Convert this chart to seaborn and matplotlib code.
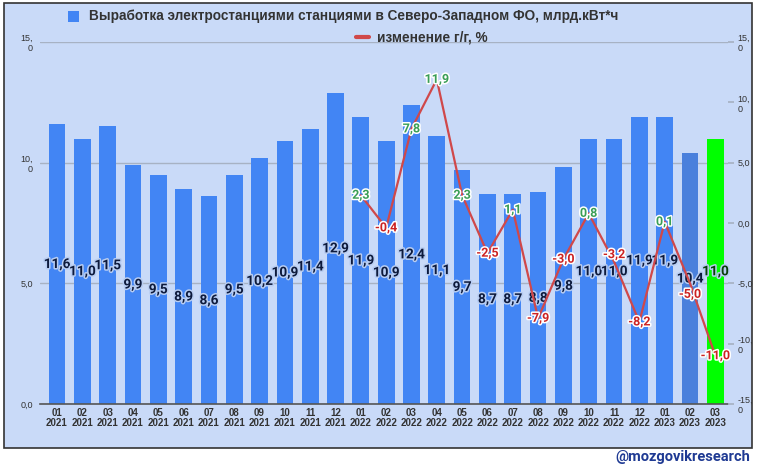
import matplotlib
matplotlib.use("Agg")
import matplotlib.pyplot as plt
import matplotlib.patheffects as pe
from matplotlib.patches import Rectangle
import numpy as np
import pandas as pd
import seaborn as sns

months = ["01\n2021", "02\n2021", "03\n2021", "04\n2021", "05\n2021", "06\n2021",
          "07\n2021", "08\n2021", "09\n2021", "10\n2021", "11\n2021", "12\n2021",
          "01\n2022", "02\n2022", "03\n2022", "04\n2022", "05\n2022", "06\n2022",
          "07\n2022", "08\n2022", "09\n2022", "10\n2022", "11\n2022", "12\n2022",
          "01\n2023", "02\n2023", "03\n2023"]
generation = [11.6, 11.0, 11.5, 9.9, 9.5, 8.9, 8.6, 9.5, 10.2, 10.9, 11.4, 12.9,
              11.9, 10.9, 12.4, 11.1, 9.7, 8.7, 8.7, 8.8, 9.8, 11.0, 11.0, 11.9,
              11.9, 10.4, 11.0]
yoy_months = months[12:]
yoy_change = [2.3, -0.4, 7.8, 11.9, 2.3, -2.5, 1.1, -7.9, -3.0, 0.8, -3.2, -8.2,
              0.1, -5.0, -11.0]
left_ticks = [0, 5, 10, 15]
left_tick_labels = ["0,0", "5,0", "10,\n0", "15,\n0"]
right_ticks = [-15, -10, -5, 0, 5, 10, 15]
right_tick_labels = ["-15,\n0", "-10,\n0", "-5,0", "0,0", "5,0", "10,\n0", "15,\n0"]

title1 = "Выработка электростанциями станциями в Северо-Западном ФО, млрд.кВт*ч"
title2 = "изменение г/г, %"

def fmt(v):
    return f"{v:.1f}".replace(".", ",")

sns.set_theme(style="white")
plt.rcParams['font.family'] = ['Roboto', 'DejaVu Sans']

W, H = 758, 468
fig = plt.figure(figsize=(W / 100, H / 100), dpi=100)
fig.patch.set_facecolor("white")

panel_color = "#c9daf8"
panel = Rectangle((4 / W, 1 - 448 / H), 748 / W, 445 / H,
                  transform=fig.transFigure, facecolor=panel_color,
                  edgecolor="#333333", linewidth=1.2, zorder=-10)
fig.patches.append(panel)

ax = fig.add_axes([40 / W, 1 - 404 / H, 688 / W, 362 / H])
ax.set_facecolor("none")

bar_colors = ["#4285f4"] * len(generation)
bar_colors[-2] = "#4a80dc"
bar_colors[-1] = "#00ff00"

df = pd.DataFrame({"month": months, "gen": generation})
sns.barplot(data=df, x="month", y="gen", hue="month", palette=bar_colors,
            legend=False, width=0.66, ax=ax, saturation=1, zorder=2,
            edgecolor="none", linewidth=0)

ax.set_xlim(-0.67, 26.5)
ax.set_ylim(0, 15)
ax.set_yticks(left_ticks)
ax.set_yticklabels(left_tick_labels, fontsize=6.5, color="#333333",
                   fontfamily="Liberation Sans")
ax.grid(axis="y", color="#a7b2c4", linewidth=1, zorder=1)
ax.set_axisbelow(True)
ax.tick_params(axis="y", length=0, pad=5)
ax.tick_params(axis="x", length=0, pad=3)
for lbl in ax.get_xticklabels():
    lbl.set_fontsize(7)
    lbl.set_fontweight("bold")
    lbl.set_color("#333333")
    lbl.set_fontfamily("Liberation Sans")
    lbl.set_linespacing(0.95)
ax.set_xlabel("")
ax.set_ylabel("")
for s in ["top", "right", "left"]:
    ax.spines[s].set_visible(False)
ax.spines["bottom"].set_color("#555555")
ax.spines["bottom"].set_linewidth(1.2)

for i, v in enumerate(generation):
    c = "#0b3d0b" if i == len(generation) - 1 else "#0d1a3c"
    ax.text(i, v / 2, fmt(v), ha="center", va="center", fontsize=9.8,
            fontweight="bold", color=c, zorder=5,
            path_effects=[pe.withStroke(linewidth=2.2, foreground="#b8cdf2")])

ax2 = ax.twinx()
ax2.set_facecolor("none")
line_x = list(range(12, 12 + len(yoy_change)))
sns.lineplot(x=line_x, y=yoy_change, color="#d0484a", linewidth=1.6, ax=ax2,
             zorder=4)
ax2.set_ylim(-15, 15)
ax2.set_xlim(-0.67, 26.5)
ax2.set_yticks(right_ticks)
ax2.set_yticklabels(right_tick_labels, fontsize=6.5, color="#333333",
                    fontfamily="Liberation Sans")
ax2.tick_params(axis="y", length=4, color="#a7b2c4", pad=3)
ax2.grid(False)
for s in ["top", "right", "left", "bottom"]:
    ax2.spines[s].set_visible(False)

# small pixel nudges for labels that would collide (as in the original chart)
label_nudge_px = {10: 7, 13: -11}
for k, (xi, v) in enumerate(zip(line_x, yoy_change)):
    c = "#3a9e55" if v > 0 else "#cc2222"
    dy = label_nudge_px.get(k, 0)
    ax2.annotate(fmt(v), (xi, v), xytext=(0, dy), textcoords="offset pixels",
                 ha="center", va="center", fontsize=9,
                 fontweight="bold", color=c, zorder=6,
                 path_effects=[pe.withStroke(linewidth=2.2, foreground="white")])

# Legend-like title
fig.patches.append(Rectangle((68 / W, 1 - 22 / H), 11 / W, 11 / H,
                             transform=fig.transFigure, facecolor="#4285f4",
                             edgecolor="none", zorder=3))
fig.text(89 / W, 1 - 16 / H, title1, fontsize=9.8, fontweight="bold",
         color="#333333", ha="left", va="center", fontfamily="Liberation Sans")
fig.lines.append(plt.Line2D([356 / W, 369 / W], [1 - 37 / H, 1 - 37 / H],
                            transform=fig.transFigure, color="#d0484a",
                            linewidth=3))
fig.text(377 / W, 1 - 37 / H, title2, fontsize=9.8, fontweight="bold",
         color="#333333", ha="left", va="center", fontfamily="Liberation Sans")

fig.text(750 / W, 1 - 457 / H, "@mozgovikresearch", fontsize=10.5,
         fontweight="bold", color="#1f3a93", ha="right", va="center")

fig.savefig("out.png", dpi=100, facecolor="white")
